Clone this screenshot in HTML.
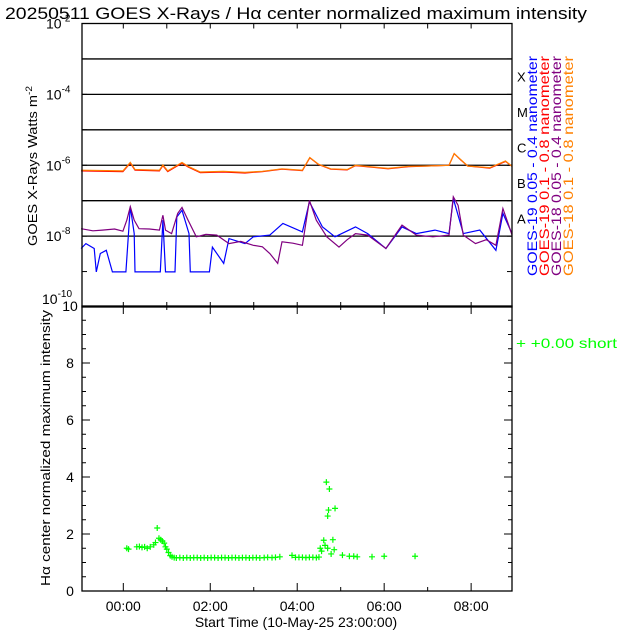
<!DOCTYPE html>
<html><head><meta charset="utf-8"><style>
html,body{margin:0;padding:0;background:#fff;}
svg{display:block;font-family:"Liberation Sans",sans-serif;}
</style></head><body>
<svg id="c" width="640" height="640" viewBox="0 0 640 640"></svg>
<script>
// ---- data ----
const tickLabelsX = ["00:00","02:00","04:00","06:00","08:00"];
const tickHoursX = [0,2,4,6,8];
const topLogTicks = [-2,-4,-6,-8,-10];
const classLetters = ["A","B","C","M","X"];
const classLogs = [-7.5,-6.5,-5.5,-4.5,-3.5];
const bottomTicks = [0,2,4,6,8,10];
const orangeT = [-0.97,-0.01,0.16,0.27,0.83,0.91,1.02,1.35,1.49,1.77,2.3,2.8,3.2,3.65,4.12,4.29,4.49,4.77,5.15,5.34,6.09,6.56,7.0,7.49,7.61,7.76,7.92,8.43,8.79,8.94];
const orangeV = [-6.14,-6.16,-5.92,-6.12,-6.14,-5.99,-6.16,-5.92,-6.03,-6.19,-6.17,-6.2,-6.17,-6.10,-6.14,-5.78,-5.97,-6.10,-6.12,-6.00,-6.09,-6.03,-6.02,-6.00,-5.67,-5.84,-6.02,-6.07,-5.88,-6.03];
const redV    = [-6.16,-6.18,-5.94,-6.14,-6.16,-6.01,-6.18,-5.94,-6.05,-6.21,-6.19,-6.22,-6.18,-6.11,-6.15,-5.79,-5.98,-6.11,-6.13,-6.01,-6.10,-6.04,-6.02,-6.00,-5.67,-5.85,-6.02,-6.08,-5.89,-6.03];
const purpleT = [-0.97,-0.7,-0.48,-0.2,-0.01,0.08,0.16,0.25,0.36,0.6,0.83,0.91,0.97,1.11,1.25,1.35,1.49,1.68,1.9,2.15,2.43,2.7,2.99,3.2,3.37,3.55,3.65,3.9,4.12,4.28,4.44,4.68,4.96,5.15,5.34,5.62,6.04,6.41,6.74,7.12,7.49,7.59,7.70,7.82,8.10,8.35,8.57,8.73,8.85,8.94];
const purpleV = [-7.79,-7.85,-7.83,-7.80,-7.86,-7.55,-7.17,-7.55,-7.79,-7.80,-7.83,-7.41,-7.83,-7.93,-7.36,-7.19,-7.55,-8.02,-7.95,-7.97,-8.21,-8.15,-8.26,-8.30,-8.49,-8.77,-8.16,-8.20,-8.26,-6.99,-7.55,-8.02,-8.31,-8.10,-7.93,-7.97,-8.35,-7.69,-7.97,-8.02,-7.97,-6.89,-7.13,-7.97,-8.21,-8.10,-8.26,-7.22,-7.64,-7.97];
const blueT = [-0.97,-0.86,-0.67,-0.62,-0.53,-0.39,-0.25,0.06,0.16,0.25,0.27,0.85,0.91,0.97,1.19,1.23,1.35,1.51,1.54,1.98,2.05,2.31,2.43,2.80,2.99,3.37,3.67,4.12,4.28,4.58,4.87,5.34,5.62,6.04,6.41,6.74,7.17,7.49,7.59,7.82,8.20,8.57,8.73,8.94];
const blueV = [-8.35,-8.21,-8.35,-9.01,-8.49,-8.40,-9.01,-9.01,-7.17,-7.93,-9.01,-9.01,-7.55,-9.01,-9.01,-7.46,-7.27,-7.93,-9.01,-9.01,-8.31,-8.77,-8.07,-8.21,-8.02,-7.97,-7.64,-7.88,-7.03,-7.74,-8.02,-7.74,-7.93,-8.35,-7.74,-7.93,-7.83,-7.93,-6.94,-7.93,-7.83,-8.40,-7.36,-7.93];
const haT = [0.08,0.12,0.31,0.37,0.43,0.49,0.55,0.62,0.70,0.74,0.78,0.82,0.86,0.90,0.94,0.97,1.00,1.04,1.08,1.12,1.17,1.22,1.3,1.38,1.46,1.54,1.62,1.7,1.78,1.86,1.94,2.02,2.1,2.18,2.26,2.34,2.42,2.5,2.58,2.66,2.74,2.82,2.9,2.98,3.06,3.14,3.24,3.32,3.42,3.5,3.6,3.88,3.96,4.04,4.12,4.2,4.28,4.36,4.44,4.5,4.53,4.56,4.61,4.64,4.67,4.70,4.70,4.72,4.74,4.78,4.82,4.85,4.87,5.04,5.20,5.30,5.38,5.72,6.0,6.71];
const haV = [1.50,1.47,1.55,1.56,1.53,1.55,1.50,1.55,1.62,1.70,2.21,1.85,1.80,1.75,1.68,1.55,1.47,1.35,1.24,1.20,1.17,1.16,1.17,1.16,1.17,1.16,1.17,1.17,1.16,1.17,1.16,1.17,1.17,1.16,1.17,1.17,1.16,1.17,1.17,1.16,1.17,1.17,1.16,1.17,1.17,1.16,1.17,1.18,1.17,1.18,1.20,1.25,1.18,1.18,1.18,1.17,1.18,1.18,1.17,1.19,1.50,1.40,1.78,1.60,3.82,2.63,1.50,2.84,3.58,1.30,1.80,1.45,2.90,1.26,1.22,1.22,1.20,1.20,1.22,1.22];

// ---- axes ----
const L=82,R=512, T0=-0.95, T1=8.94;
const xs=t=>L+(t-T0)/(T1-T0)*(R-L);
const TT=23.5, TB=307;
const yTop=v=>TT+(-2-v)/8*(TB-TT);
const BT=306, BB=591;
const yBot=v=>BB-v/10*(BB-BT);
const svg=document.getElementById('c');
const NS='http://www.w3.org/2000/svg';
function mk(tag,attrs,parent){const e=document.createElementNS(NS,tag);for(const k in attrs)e.setAttribute(k,attrs[k]);(parent||svg).appendChild(e);return e;}

const title=mk('text',{x:5,y:19,'font-size':17,textLength:582,lengthAdjust:'spacingAndGlyphs'});
title.textContent='20250511 GOES X-Rays / Hα center normalized maximum intensity';



// top panel
const gTop=mk('g',{});


for(let d=-3;d>=-8;d--){const l=mk('line',{x1:L,x2:R,y1:yTop(d),y2:yTop(d),stroke:'#000','stroke-width':1.3},gTop);

}
for(let d=-2;d>=-10;d--){mk('line',{x1:L,x2:L+5,y1:yTop(d),y2:yTop(d),stroke:'#000'},gTop);mk('line',{x1:R-5,x2:R,y1:yTop(d),y2:yTop(d),stroke:'#000'},gTop);}
for(let h=0;h<=8;h++){mk('line',{x1:xs(h),x2:xs(h),y1:TB,y2:TB-5,stroke:'#000'},gTop);mk('line',{x1:xs(h),x2:xs(h),y1:TT,y2:TT+5,stroke:'#000'},gTop);}
topLogTicks.forEach(v=>{const yy=(v===-10)?yTop(v)-3:yTop(v)+5;const t=mk('text',{x:(v===-10?42:46),y:yy,'font-size':14},gTop);t.innerHTML='10<tspan dy="-7" font-size="10">'+v+'</tspan>';

});
classLetters.forEach((c,i)=>{const t=mk('text',{x:517,y:yTop(classLogs[i])+5,'font-size':13},gTop);t.textContent=c;

});
const yt=mk('text',{transform:'translate(37,246) rotate(-90)','font-size':13,textLength:160,lengthAdjust:'spacingAndGlyphs'},gTop);yt.innerHTML='GOES X-Rays Watts m<tspan dy="-5" font-size="9">-2</tspan>';


function series(T,V,col,name){const p=T.map((t,i)=>xs(t).toFixed(1)+','+yTop(V[i]).toFixed(1)).join(' ');
const e=mk('polyline',{points:p,fill:'none',stroke:col,'stroke-width':1.2},gTop);

}
series(orangeT,redV,'#ff0000','goes19-long-series');
series(orangeT,orangeV,'#ff8000','goes18-long-series');
series(blueT,blueV,'#0000ff','goes19-short-series');
series(purpleT,purpleV,'#800080','goes18-short-series');
mk('rect',{x:L,y:TT,width:R-L,height:TB-TT,fill:'none',stroke:'#000','stroke-width':1.3},gTop);
const leg=[['GOES-19 0.05 - 0.4 nanometer','#0000ff'],['GOES-19 0.1 - 0.8 nanometer','#ff0000'],['GOES-18 0.05 - 0.4 nanometer','#800080'],['GOES-18 0.1 - 0.8 nanometer','#ff8000']];
leg.forEach((l,i)=>{const t=mk('text',{transform:'translate('+(537+i*12)+',276) rotate(-90)','font-size':14,fill:l[1],textLength:220,lengthAdjust:'spacingAndGlyphs'});t.textContent=l[0];

});

// bottom panel
const gB=mk('g',{});


for(let v=0;v<=10;v+=0.5){const w=(v%2===0)?8:4;mk('line',{x1:L,x2:L+w,y1:yBot(v),y2:yBot(v),stroke:'#000'},gB);mk('line',{x1:R-w,x2:R,y1:yBot(v),y2:yBot(v),stroke:'#000'},gB);}
for(let h=0;h<=8;h++){const w=(h%2===0)?8:4;mk('line',{x1:xs(h),x2:xs(h),y1:BB,y2:BB-w,stroke:'#000'},gB);mk('line',{x1:xs(h),x2:xs(h),y1:BT,y2:BT+w,stroke:'#000'},gB);}
bottomTicks.forEach(v=>{const t=mk('text',{x:70,y:yBot(v)+5,'font-size':14,'text-anchor':'middle'},gB);t.textContent=v;

});
tickHoursX.forEach((h,i)=>{const t=mk('text',{x:xs(h),y:611,'font-size':14,'text-anchor':'middle'},gB);t.textContent=tickLabelsX[i];

});
const xt=mk('text',{x:296,y:627,'font-size':14,'text-anchor':'middle'},gB);xt.textContent='Start Time (10-May-25 23:00:00)';


const by=mk('text',{transform:'translate(50,586) rotate(-90)','font-size':13,textLength:276,lengthAdjust:'spacingAndGlyphs'},gB);by.textContent='Hα center normalized maximum intensity';


haT.forEach((t,i)=>{const x=xs(t),y=yBot(haV[i]);
const p=mk('path',{d:'M'+(x-3)+','+y+'h6M'+x+','+(y-3)+'v6',stroke:'#00ff00','stroke-width':1.2},gB);

});
mk('rect',{x:L,y:BT,width:R-L,height:BB-BT,fill:'none',stroke:'#000','stroke-width':1.3},gB);
const lg=mk('text',{x:516,y:348,'font-size':14,fill:'#00ff00',textLength:101,lengthAdjust:'spacingAndGlyphs'},gB);lg.textContent='+  +0.00 short';


</script>
</body></html>
